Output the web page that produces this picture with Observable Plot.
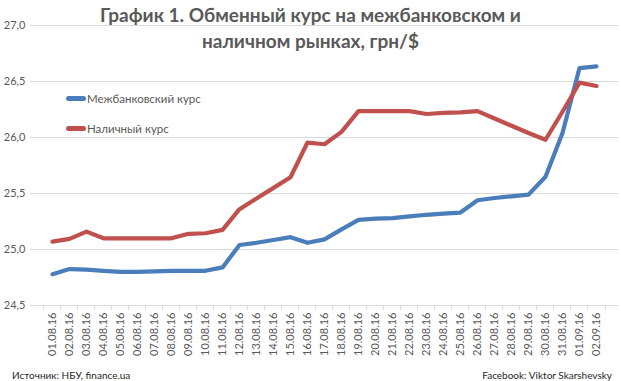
<!DOCTYPE html>
<html><head><meta charset="utf-8">
<script src="https://cdn.jsdelivr.net/npm/d3@7"></script>
<script src="https://cdn.jsdelivr.net/npm/@observablehq/plot@0.6"></script>
<style>
body{margin:0;background:#fff;}
#wrap{position:relative;width:621px;height:381px;font-family:Lato,"Open Sans",sans-serif;color:#595959;}
.title{position:absolute;left:0;width:621px;top:2px;text-align:center;font-weight:bold;font-size:19px;line-height:26px;color:#595959;}
.leg{position:absolute;font-size:11.5px;color:#595959;display:flex;align-items:center;}
.leg span.sw{display:inline-block;width:20px;height:5px;border-radius:3px;margin-right:1px;}
.foot{position:absolute;top:369px;font-size:10px;color:#262626;}
</style></head>
<body><div id="wrap"></div>
<script>
const dates = ["01.08.16","02.08.16","03.08.16","04.08.16","05.08.16","06.08.16","07.08.16","08.08.16","09.08.16","10.08.16","11.08.16","12.08.16","13.08.16","14.08.16","15.08.16","16.08.16","17.08.16","18.08.16","19.08.16","20.08.16","21.08.16","22.08.16","23.08.16","24.08.16","25.08.16","26.08.16","27.08.16","28.08.16","29.08.16","30.08.16","31.08.16","01.09.16","02.09.16"];
const interbank = [24.78,24.825,24.82,24.81,24.80,24.80,24.805,24.81,24.81,24.81,24.84,25.04,25.06,25.085,25.11,25.06,25.09,25.18,25.265,25.275,25.28,25.295,25.31,25.32,25.33,25.44,25.46,25.475,25.49,25.65,26.04,26.62,26.635];
const cash = [25.07,25.095,25.16,25.10,25.10,25.10,25.10,25.10,25.14,25.145,25.175,25.36,25.455,25.55,25.645,25.955,25.94,26.05,26.235,26.235,26.235,26.235,26.21,26.22,26.225,26.235,26.17,26.105,26.04,25.98,26.23,26.49,26.46];
const yTicks = [24.5,25.0,25.5,26.0,26.5,27.0];
const seriesNames = ["Межбанковский курс","Наличный курс"];
const seriesColors = ["#4a7ebb","#c0504d"];

const rows = [];
dates.forEach((d,i)=>{
  rows.push({date:d, value:interbank[i], series:seriesNames[0]});
  rows.push({date:d, value:cash[i], series:seriesNames[1]});
});

const W = 621, ML = 30, MR = 3;
const half = (W - ML - MR) / dates.length / 2;

const chart = Plot.plot({
  width:W, height:381,
  marginLeft:ML, marginRight:MR, marginTop:25, marginBottom:76,
  style:{fontFamily:"Lato, 'Open Sans', sans-serif", color:"#595959", fontSize:"11px", background:"transparent"},
  x:{type:"point", domain:dates, padding:0.5, label:null},
  y:{domain:[24.5,27], ticks:yTicks, label:null, tickFormat:d=>d.toFixed(1).replace(".",",")},
  color:{domain:seriesNames, range:seriesColors},
  marks:[
    Plot.ruleY(yTicks,{stroke:"#d9d9d9", strokeWidth:1}),
    Plot.ruleX(dates,{x:d=>d, y1:24.5, y2:24.5, insetBottom:-5, dx:-half, stroke:"#d9d9d9"}),
    Plot.ruleX([dates[dates.length-1]],{x:d=>d, y1:24.5, y2:24.5, insetBottom:-5, dx:half, stroke:"#d9d9d9"}),
    Plot.axisY({ticks:yTicks, tickSize:0, tickPadding:5, fontSize:11, tickFormat:d=>d.toFixed(1).replace(".",",")}),
    Plot.axisX({tickRotate:-90, tickSize:0, tickPadding:7, fontSize:11}),
    Plot.line(rows,{x:"date", y:"value", z:"series", stroke:"series", strokeWidth:4.2, strokeLinejoin:"round", strokeLinecap:"round"})
  ]
});
const wrap = document.getElementById("wrap");
wrap.appendChild(chart);

const t = document.createElement("div");
t.className="title";
t.innerHTML="График 1. Обменный курс на межбанковском и<br>наличном рынках, грн/$";
wrap.appendChild(t);

[[0,100],[1,130]].forEach(([k,y])=>{
  const l=document.createElement("div");
  l.className="leg";
  l.style.left="66px"; l.style.top=(y-8)+"px";
  l.innerHTML=`<span class="sw" style="background:${seriesColors[k]}"></span>${seriesNames[k]}`;
  wrap.appendChild(l);
});
const f1=document.createElement("div");f1.className="foot";f1.style.left="12px";f1.textContent="Источник: НБУ, finance.ua";wrap.appendChild(f1);
const f2=document.createElement("div");f2.className="foot";f2.style.right="9px";f2.textContent="Facebook: Viktor Skarshevsky";wrap.appendChild(f2);
</script></body></html>
